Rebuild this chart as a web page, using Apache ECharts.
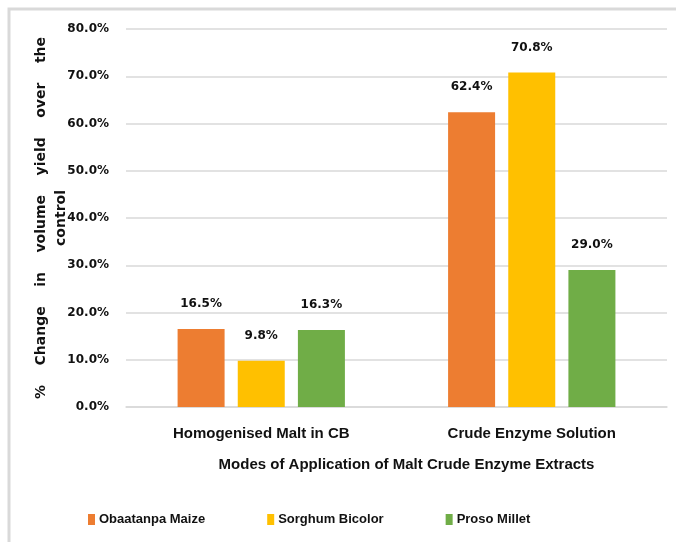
<!DOCTYPE html>
<html>
<head>
<meta charset="utf-8">
<script src="https://cdn.jsdelivr.net/npm/echarts@6/dist/echarts.min.js"></script>
<style>
  html, body { margin: 0; padding: 0; background: #fff; }
  #chart { width: 676px; height: 542px; }
</style>
</head>
<body>
<div id="chart"></div>
<script>
// Application modes along the x axis
const categories = ['Homogenised Malt in CB', 'Crude Enzyme Solution'];

// Percentage change in volume yield over the control, per grain source
const obaatanpaMaize = [16.5, 62.4];
const sorghumBicolor = [9.8, 70.8];
const prosoMillet = [16.3, 29.0];

const seriesNames = ['Obaatanpa Maize', 'Sorghum Bicolor', 'Proso Millet'];
const seriesColors = ['#ED7D31', '#FFC000', '#70AD47'];
const seriesValues = [obaatanpaMaize, sorghumBicolor, prosoMillet];

const tickFont = 'DejaVu Sans';
const textFont = 'Liberation Sans';
const ink = '#111';

const chart = echarts.init(document.getElementById('chart'), null, { renderer: 'canvas' });

chart.setOption({
  backgroundColor: '#ffffff',
  animation: false,
  graphic: [{
    type: 'rect',
    shape: { x: 9, y: 9, width: 720, height: 600 },
    style: { fill: 'none', stroke: '#d9d9d9', lineWidth: 3 },
    silent: true
  }],
  legend: {
    data: seriesNames,
    left: 83,
    top: 508,
    itemWidth: 7,
    itemHeight: 11,
    itemGap: 62,
    icon: 'rect',
    textStyle: { fontFamily: textFont, fontWeight: 'bold', fontSize: 13, color: ink, padding: [0, 0, 0, -1] }
  },
  grid: { left: 126, right: 9, top: 29, bottom: 135 },
  xAxis: {
    type: 'category',
    data: categories,
    axisTick: { show: false },
    axisLine: { lineStyle: { color: '#d9d9d9', width: 1.5 } },
    axisLabel: { fontFamily: textFont, fontWeight: 'bold', fontSize: 15, color: ink, margin: 19 },
    name: 'Modes of Application of Malt Crude Enzyme Extracts',
    nameLocation: 'middle',
    nameGap: 50,
    nameMoveOverlap: false,
    nameTextStyle: { fontFamily: textFont, fontWeight: 'bold', fontSize: 15, color: ink, padding: [0, 0, 0, 20] }
  },
  yAxis: {
    type: 'value',
    min: 0,
    max: 80,
    interval: 10,
    axisLine: { show: false },
    axisTick: { show: false },
    splitLine: { lineStyle: { color: '#d9d9d9', width: 1.5 } },
    axisLabel: {
      fontFamily: tickFont, fontWeight: 'bold', fontSize: 12, color: ink, margin: 17,
      formatter: v => v.toFixed(1) + '%'
    },
    name: '%    Change    in    volume    yield    over    the\ncontrol',
    nameLocation: 'middle',
    nameRotate: 90,
    nameGap: 55,
    nameMoveOverlap: false,
    nameTextStyle: { fontFamily: tickFont, fontWeight: 'bold', fontSize: 14, color: ink, lineHeight: 20, align: 'center' }
  },
  series: seriesNames.map((name, i) => ({
    name: name,
    type: 'bar',
    data: seriesValues[i],
    barWidth: 47,
    barGap: '28%',
    itemStyle: { color: seriesColors[i] },
    label: {
      show: true,
      position: 'top',
      distance: 19,
      fontFamily: tickFont,
      fontWeight: 'bold',
      fontSize: 12,
      color: ink,
      formatter: p => p.value.toFixed(1) + '%'
    }
  }))
});
</script>
</body>
</html>
